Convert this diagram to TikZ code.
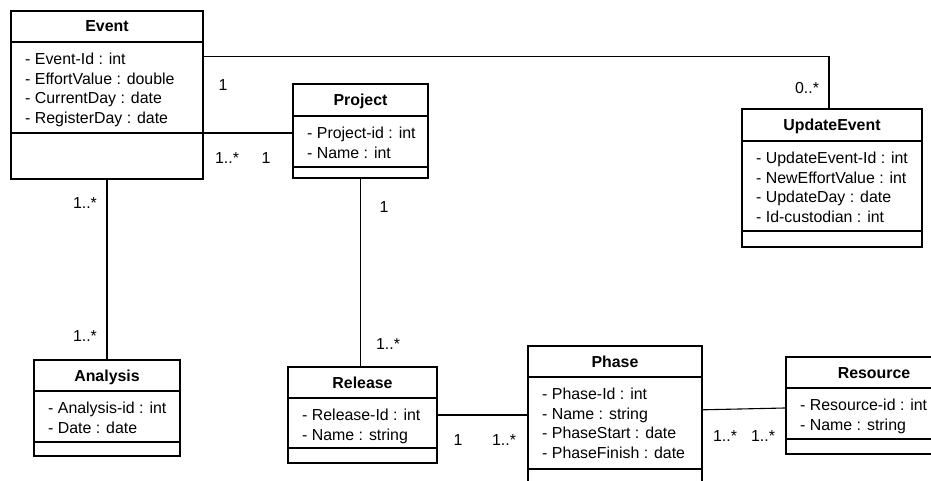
\documentclass[tikz,border=0pt]{standalone}
\usepackage{fontspec}
\setmainfont{Liberation Sans}
\tikzset{
  classbox/.style={draw, line width=2.4pt, rectangle, inner sep=0pt, fill=white},
  sepline/.style={line width=1.4pt},
  conn/.style={line width=1.1pt},
  attr/.style={anchor=base west, inner sep=0pt, font=\fontsize{15.9}{18}\selectfont},
  ctitle/.style={anchor=base, inner sep=0pt, font=\bfseries\fontsize{15.9}{18}\selectfont},
  mult/.style={anchor=center, inner sep=0pt, font=\fontsize{15.9}{18}\selectfont},
}
% #1 name, #2 left, #3 top, #4 right, #5 bottom, #6 title sep, #7 attr sep, #8 title, #9 attributes
\newcommand{\umlclass}[9]{%
  \node[classbox, minimum width={(#4)-(#2)}, minimum height={(#5)-(#3)}] (#1) at ({((#2)+(#4))/2},{((#3)+(#5))/2}) {};
  \draw[sepline] (#2,#6) -- (#4,#6);
  \draw[sepline] (#2,#7) -- (#4,#7);
  \node[ctitle] (#1-title) at ({((#2)+(#4))/2},{((#3)+(#6))/2+5.5}) {#8};
  \foreach \attrtext [count=\ai] in {#9} {\node[attr] (#1-a\ai) at ({#2+14},{#6+22.5+19.7*(\ai-1)}) {\attrtext};}
}
\begin{document}
\begin{tikzpicture}[x=1pt, y=-1pt]
\useasboundingbox (0,0) rectangle (931,481);
\clip (0,0) rectangle (931,481);
\fill[white] (0,0) rectangle (931,481);

\umlclass{event}{11}{11}{203}{179}{42}{133}{Event}{- Event-Id : int, - EffortValue : double, - CurrentDay : date, - RegisterDay : date}
\umlclass{project}{293}{84}{428}{178}{116}{167}{Project}{- Project-id : int, - Name : int}
\umlclass{upd}{742}{109}{922}{247}{141}{231}{UpdateEvent}{- UpdateEvent-Id : int, - NewEffortValue : int, - UpdateDay : date, - Id-custodian : int}
\umlclass{analysis}{34}{360}{180}{456}{391}{442}{Analysis}{- Analysis-id : int, - Date : date}
\umlclass{release}{288}{367}{437}{463}{398}{448}{Release}{- Release-Id : int, - Name : string}
\umlclass{phase}{528}{346}{702}{500}{377}{469}{Phase}{- Phase-Id : int, - Name : string, - PhaseStart : date, - PhaseFinish : date}
\umlclass{resource}{786}{357}{962}{454}{388}{439}{Resource}{- Resource-id : int, - Name : string}

% connectors
\coordinate (eu) at ([yshift=-47pt]event.north east);
\draw[conn] (eu) -| ([xshift=-3pt]upd.north);
\coordinate (ep) at ([yshift=-38pt]event.east);
\draw[conn] (ep) -- (ep -| project.west);
\draw[conn] (event.south) -- (analysis.north);
\draw[conn] (project.south) -- (project.south |- release.north);
\draw[conn] (release.east) -- (release.east -| phase.west);
\draw[conn] ([yshift=-65pt]phase.north east) -- ([yshift=-2.5pt]resource.west);

% multiplicities
\node[mult] (m1) at (223,85) {1};
\node[mult] (m2) at (227,158) {1..*};
\node[mult] (m3) at (266,158) {1};
\node[mult] (m4) at (807,88) {0..*};
\node[mult] (m5) at (85,203) {1..*};
\node[mult] (m6) at (85,336) {1..*};
\node[mult] (m7) at (384,207) {1};
\node[mult] (m8) at (388,344) {1..*};
\node[mult] (m9) at (458,440) {1};
\node[mult] (m10) at (504,440) {1..*};
\node[mult] (m11) at (725,436) {1..*};
\node[mult] (m12) at (763,436) {1..*};
\end{tikzpicture}
\end{document}
